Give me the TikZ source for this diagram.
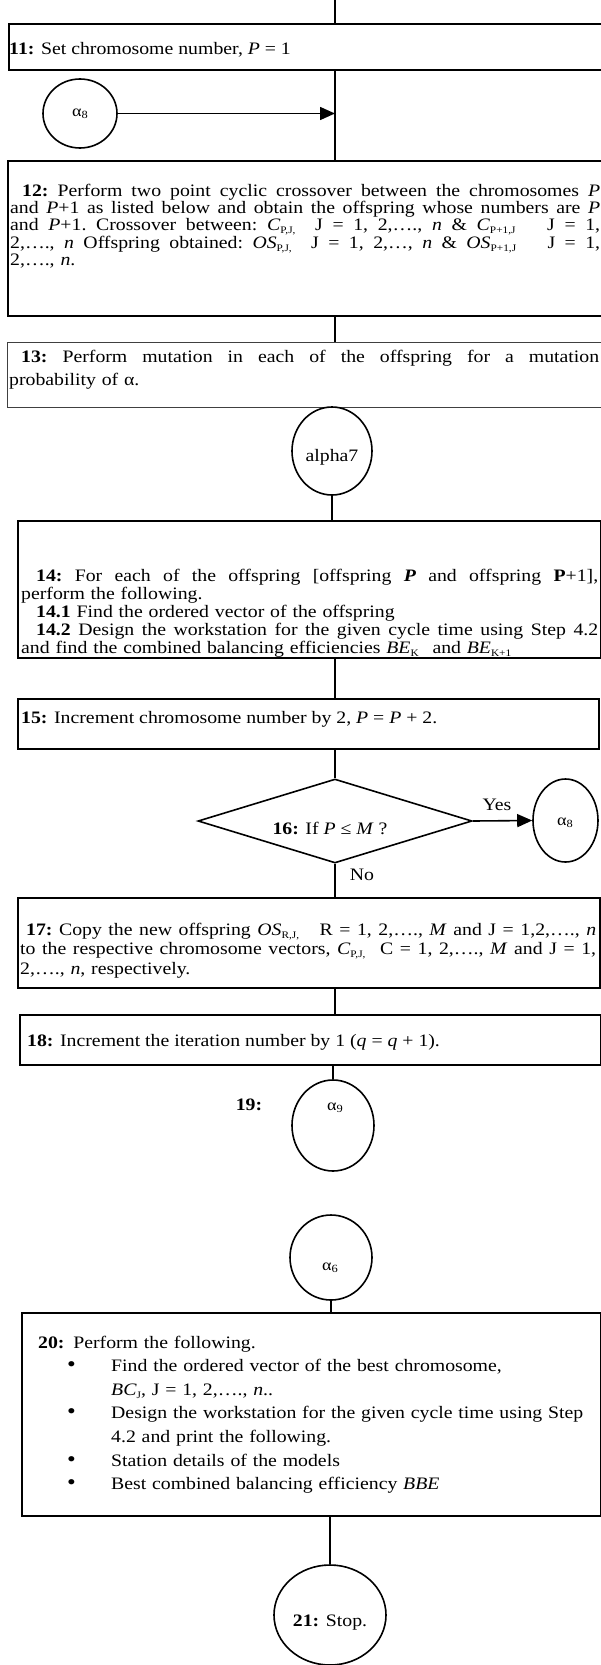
\documentclass[tikz,border=0pt]{standalone}
\usepackage{fontspec}
\setmainfont{Liberation Serif}[FakeStretch=1.13]
\usetikzlibrary{shapes.geometric,arrows.meta}
\newcommand\sbs[1]{\raisebox{-3pt}{\fontsize{10}{10}\selectfont #1}}
\newcommand\jl[1]{\leavevmode\hbox to \linewidth{\frenchspacing\spaceskip=0.25em plus 1fil minus 0.05em\relax #1}}
\newcommand\bul{\hspace*{29pt}\makebox[44pt][l]{\fontsize{22}{20}\selectfont •}}
\begin{document}
\begin{tikzpicture}[x=1pt,y=-1pt,
  box/.style={draw,line width=1.7pt,rectangle,inner sep=0pt,anchor=north west},
  txt/.style={anchor=base west,inner sep=0pt,align=left,font=\fontsize{17.5}{18.4}\selectfont},
  circ/.style={draw,line width=1.6pt,ellipse,inner sep=0pt},
  lbl/.style={inner sep=0pt,font=\fontsize{17.5}{19}\selectfont},
  conn/.style={line width=1.6pt},
  arr/.style={line width=1.6pt,-{Triangle[length=15pt,width=13pt]}},
]
\useasboundingbox (0,0) rectangle (601,1665);

% boxes
\node[box,minimum width=607pt,minimum height=46pt] (b11) at (8,23) {};
\node[box,minimum width=608pt,minimum height=155pt] (b12) at (7,160) {};
\node[box,draw=black!75,line width=1.1pt,minimum width=608pt,minimum height=65pt] (b13) at (7,342) {};
\node[box,minimum width=583pt,minimum height=137pt] (b14) at (17,520) {};
\node[box,minimum width=581pt,minimum height=50pt] (b15) at (17,698) {};
\node[box,minimum width=582pt,minimum height=90pt] (b17) at (17,897) {};
\node[box,minimum width=581pt,minimum height=50pt] (b18) at (19,1014) {};
\node[box,minimum width=579pt,minimum height=203pt] (b20) at (21,1312) {};

% circles
\node[circ,minimum width=74pt,minimum height=69pt] (a8l) at (80,113.5) {};
\node[circ,minimum width=80pt,minimum height=88pt] (a7) at (332,451) {};
\node[circ,minimum width=65pt,minimum height=83pt] (a8r) at (565.5,820.5) {};
\node[circ,minimum width=82pt,minimum height=91pt] (a9) at (333,1125.5) {};
\node[circ,minimum width=82pt,minimum height=85pt] (a6) at (331,1257.5) {};
\node[circ,minimum width=112pt,minimum height=100pt] (stop) at (330,1615) {};

% diamond
\node[draw,line width=1.6pt,diamond,aspect=3.26,minimum width=274pt,minimum height=84pt,inner sep=0pt] (dia) at (335,821) {};

% texts
\node[txt] (t11) at (9,54) {\textbf{11:} Set chromosome number, \textit{P} = 1};

\node[txt,text width=590pt,font=\fontsize{17.5}{17.4}\selectfont] (t12) at (10,196) {%
\jl{\hspace*{12pt}\textbf{12:} Perform two point cyclic crossover between the chromosomes \textit{P}}\\
\jl{and \textit{P}+1 as listed below and obtain the offspring whose numbers are \textit{P}}\\
\jl{and \textit{P}+1. Crossover between: \textit{C}\sbs{P,J,}\hspace{10pt} J = 1, 2,…., \textit{n} \& \textit{C}\sbs{P+1,J}\hspace{22pt} J = 1,}\\
\jl{2,…., \textit{n} Offspring obtained: \textit{OS}\sbs{P,J,}\hspace{10pt} J = 1, 2,…, \textit{n} \& \textit{OS}\sbs{P+1,J}\hspace{22pt} J = 1,}\\
2,…., \textit{n}.};

\node[txt,text width=590pt] (t13) at (9,362) {%
\jl{\hspace*{12pt}\textbf{13:} Perform mutation in each of the offspring for a mutation}\\[5.5pt]
probability of α.};

\node[txt,text width=577pt,font=\fontsize{17.5}{18}\selectfont] (t14) at (21,581) {%
\jl{\hspace*{15pt}\textbf{14:} For each of the offspring [offspring \textbf{\textit{P}} and offspring \textbf{P}+1],}\\
perform the following.\\
\hspace*{15pt}\textbf{14.1} Find the ordered vector of the offspring\\
\jl{\hspace*{15pt}\textbf{14.2} Design the workstation for the given cycle time using Step 4.2}\\
and find the combined balancing efficiencies \textit{BE}\sbs{K}\hspace{8pt} and \textit{BE}\sbs{K+1}};

\node[txt] (t15) at (21,723) {\textbf{15:} Increment chromosome number by 2, \textit{P} = \textit{P} + 2.};

\node[txt,text width=576pt,font=\fontsize{17.5}{19.5}\selectfont] (t17) at (20,935) {%
\jl{\hspace*{6pt}\textbf{17:} Copy the new offspring \textit{OS}\sbs{R,J,}\hspace{14pt} R = 1, 2,…., \textit{M} and J = 1,2,…., \textit{n}}\\
\jl{to the respective chromosome vectors, \textit{C}\sbs{P,J,}\hspace{8pt} C = 1, 2,…., \textit{M} and J = 1,}\\
2,…., \textit{n}, respectively.};

\node[txt] (t18) at (27,1046) {\textbf{18:} Increment the iteration number by 1 (\textit{q} = \textit{q} + 1).};

\node[txt,text width=560pt,font=\fontsize{17.5}{23.6}\selectfont] (t20) at (38,1348) {%
\textbf{20:} Perform the following.\\
\bul Find the ordered vector of the best chromosome,\\
\hspace*{73pt}\textit{BC}\sbs{J}, J = 1, 2,…., \textit{n}..\\
\bul Design the workstation for the given cycle time using Step\\
\hspace*{73pt}4.2 and print the following.\\
\bul Station details of the models\\
\bul Best combined balancing efficiency \textit{BBE}};

% circle labels
\node[lbl,font=\fontsize{16}{18}\selectfont] (l8l) at (a8l.center) {α\raisebox{-2pt}{\fontsize{11}{11}\selectfont 8}};
\node[lbl] (l7) at (332,457) {alpha7};
\node[lbl,font=\fontsize{16}{18}\selectfont] (l8r) at (565,823) {α\raisebox{-2pt}{\fontsize{11}{11}\selectfont 8}};
\node[lbl,font=\fontsize{16}{18}\selectfont] (l9) at (335,1108) {α\raisebox{-2pt}{\fontsize{11}{11}\selectfont 9}};
\node[lbl,font=\fontsize{16}{18}\selectfont] (l6) at (330,1268) {α\raisebox{-2pt}{\fontsize{11}{11}\selectfont 6}};
\node[lbl] (lstop) at (330,1623) {\textbf{21:} Stop.};
\node[lbl] (l19) at (249,1105) {\textbf{19:}};
\node[lbl] (l16) at (330,828) {\textbf{16:} If \textit{P} ≤ \textit{M} ?};
\node[lbl] (yes) at (497,805) {Yes};
\node[lbl] (no) at (362,875) {No};

% connectors
\coordinate (top) at (335,0);
\draw[conn] (top) -- (top |- b11.north);
\draw[conn] (b11.south -| top) -- (b12.north -| top);
\draw[arr] (a8l.east) -- (a8l.east -| top);
\draw[conn] (b12.south -| top) -- (b13.north -| top);
\draw[conn] (b13.south -| a7) -- (a7.north);
\draw[conn] (a7.south) -- (a7.south |- b14.north);
\draw[conn] (b14.south -| top) -- (b15.north -| top);
\draw[conn] (b15.south -| dia) -- (dia.north);
\draw[arr] (dia.east) -- (a8r.west);
\draw[conn] (dia.south) -- (b17.north -| dia);
\draw[conn] (b17.south -| top) -- (b18.north -| top);
\draw[conn] (b18.south -| a9) -- (a9.north);
\draw[conn] (a6.south) -- (a6.south |- b20.north);
\draw[conn] (b20.south -| stop) -- (stop.north);
\end{tikzpicture}
\end{document}
